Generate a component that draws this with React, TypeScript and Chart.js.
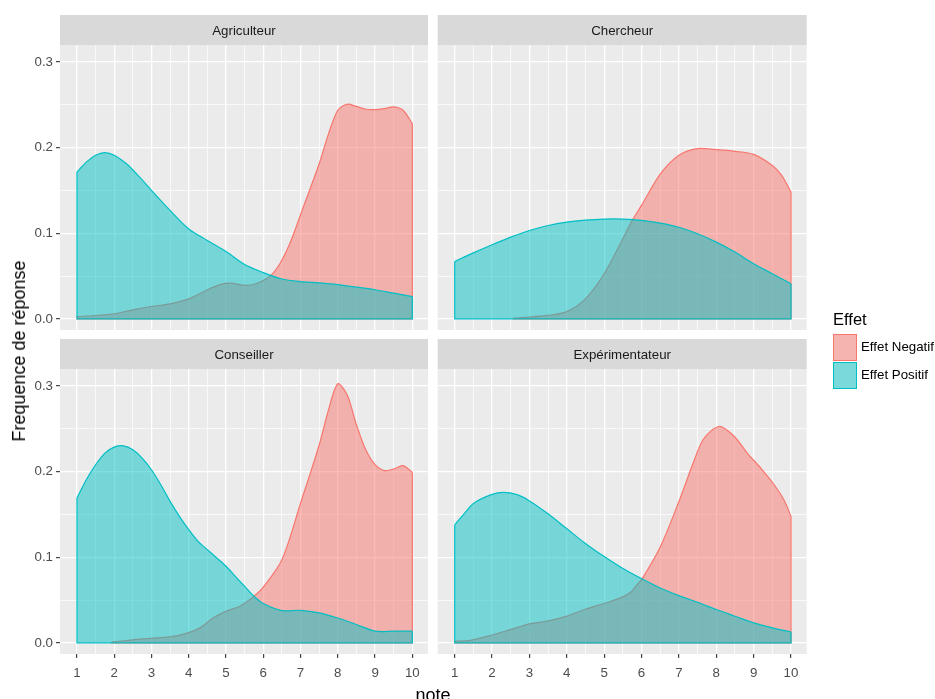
import React, { useEffect, useRef } from "react";
import { Chart, registerables } from "chart.js";

Chart.register(...registerables);

// ---------- data ----------
const panelTitles = ["Agriculteur", "Chercheur", "Conseiller", "Expérimentateur"];
const seriesNames = ["Effet Negatif", "Effet Positif"];
const legendTitle = "Effet";
const xAxisTitle = "note";
const yAxisTitle = "Frequence de réponse";

const xMajorTicks = [1, 2, 3, 4, 5, 6, 7, 8, 9, 10];
const xMinorTicks = [1.5, 2.5, 3.5, 4.5, 5.5, 6.5, 7.5, 8.5, 9.5];
const yMajorTicks = [0, 0.1, 0.2, 0.3];
const yMinorTicks = [0.05, 0.15, 0.25];
const xLimits = [0.545, 10.42];
const yLimits = [-0.013, 0.3197];

// Agriculteur
const agriNegX = [1, 1.5, 2, 2.5, 3, 3.5, 4, 4.5, 4.84, 5.1, 5.55, 5.8, 6.17, 6.44, 6.71, 7.07, 7.5, 7.75, 8, 8.25, 8.5, 8.75, 9, 9.25, 9.5, 9.75, 10];
const agriNegY = [0.0027, 0.0039, 0.0058, 0.0105, 0.0144, 0.0175, 0.0234, 0.0339, 0.040, 0.0417, 0.039, 0.041, 0.0495, 0.064, 0.0876, 0.130, 0.181, 0.216, 0.2435, 0.2505, 0.248, 0.2447, 0.2443, 0.2454, 0.2474, 0.2435, 0.228];
const agriPosX = [1, 1.25, 1.5, 1.75, 2, 2.33, 2.67, 3, 3.5, 4, 4.5, 5, 5.5, 6, 6.5, 7, 7.5, 8, 8.5, 9, 9.5, 10];
const agriPosY = [0.1714, 0.183, 0.191, 0.194, 0.191, 0.181, 0.166, 0.150, 0.1266, 0.105, 0.0915, 0.0785, 0.0635, 0.054, 0.0465, 0.0435, 0.042, 0.040, 0.037, 0.034, 0.030, 0.026];

// Chercheur
const cherNegX = [2.57, 3, 3.5, 4, 4.5, 5, 5.5, 5.75, 6, 6.5, 7, 7.5, 8, 8.5, 9, 9.5, 9.75, 10];
const cherNegY = [0.001, 0.002, 0.004, 0.0085, 0.0234, 0.0526, 0.0935, 0.115, 0.1325, 0.169, 0.191, 0.1987, 0.1975, 0.1956, 0.192, 0.179, 0.1675, 0.148];
const cherPosX = [1, 1.5, 2, 2.5, 3, 3.5, 4, 4.5, 5, 5.5, 6, 6.5, 7, 7.5, 8, 8.5, 9, 9.5, 10];
const cherPosY = [0.067, 0.077, 0.0865, 0.0954, 0.1032, 0.109, 0.113, 0.1153, 0.1165, 0.1165, 0.115, 0.1118, 0.107, 0.0993, 0.0896, 0.078, 0.0643, 0.0526, 0.041];

// Conseiller
const consNegX = [1.93, 2.78, 3.5, 3.94, 4.3, 4.65, 5.01, 5.37, 5.75, 6, 6.5, 7, 7.5, 7.75, 8, 8.25, 8.5, 8.75, 9, 9.25, 9.5, 9.75, 10];
const consNegY = [0.001, 0.0047, 0.007, 0.011, 0.0175, 0.029, 0.037, 0.0427, 0.0544, 0.065, 0.097, 0.163, 0.231, 0.272, 0.3024, 0.2895, 0.2546, 0.2254, 0.208, 0.201, 0.203, 0.2068, 0.199];
const consPosX = [1, 1.25, 1.5, 1.75, 2, 2.25, 2.5, 2.75, 3, 3.25, 3.5, 3.75, 4, 4.25, 4.5, 4.75, 5, 5.25, 5.5, 5.75, 6, 6.5, 7, 7.5, 8, 8.5, 9, 9.5, 10];
const consPosY = [0.169, 0.1904, 0.2079, 0.2215, 0.2285, 0.230, 0.2254, 0.2157, 0.2021, 0.1846, 0.1652, 0.1477, 0.1321, 0.1185, 0.1088, 0.0991, 0.0894, 0.0777, 0.066, 0.0544, 0.0459, 0.0377, 0.038, 0.035, 0.029, 0.0214, 0.0136, 0.0136, 0.0136];

// Expérimentateur
const expNegX = [1, 1.42, 1.96, 2.49, 3.03, 3.48, 3.98, 4.48, 4.99, 5.44, 5.71, 5.88, 6, 6.5, 7, 7.4, 7.66, 8.07, 8.47, 8.83, 9.19, 9.55, 9.81, 10];
const expNegY = [0.002, 0.003, 0.0086, 0.0155, 0.0225, 0.0253, 0.031, 0.0389, 0.0459, 0.0525, 0.059, 0.068, 0.0738, 0.112, 0.165, 0.212, 0.238, 0.2526, 0.2415, 0.2215, 0.204, 0.1846, 0.167, 0.1477];
const expPosX = [1, 1.24, 1.51, 1.98, 2.31, 2.67, 2.98, 3.47, 3.98, 4.48, 4.99, 5.48, 5.88, 6.5, 7, 7.5, 8, 8.5, 9, 9.5, 10];
const expPosY = [0.138, 0.150, 0.163, 0.173, 0.1757, 0.173, 0.1663, 0.1516, 0.134, 0.1166, 0.101, 0.0874, 0.0777, 0.0641, 0.0552, 0.0474, 0.0389, 0.0311, 0.0233, 0.0175, 0.0128];

// ---------- styles ----------
const FONT = "'Liberation Sans', Arial, Helvetica, sans-serif";
const RED = "#F8766D";
const RED_FILL = "rgba(248,118,109,0.5)";
const CYAN = "#00BFC4";
const CYAN_FILL = "rgba(0,191,196,0.5)";
const W = 935;
const H = 699;

const near = (arr: number[], v: number) => arr.some((a) => Math.abs(a - v) < 1e-9);

function curvePoints(xs: number[], ys: number[]) {
  return xs.map((x, i) => ({ x, y: ys[i] }));
}
// outline of the density polygon: left edge, baseline, right edge
function edgePoints(xs: number[], ys: number[]) {
  const n = xs.length - 1;
  return [
    { x: xs[0], y: ys[0] },
    { x: xs[0], y: 0 },
    { x: xs[n], y: 0 },
    { x: xs[n], y: ys[n] },
  ];
}

function makeStripPlugin(title: string) {
  return {
    id: "panelStrip",
    beforeDraw(chart: any) {
      const { ctx, chartArea: a } = chart;
      ctx.save();
      ctx.fillStyle = "#EBEBEB";
      ctx.fillRect(a.left, a.top, a.right - a.left, a.bottom - a.top);
      ctx.fillStyle = "#D9D9D9";
      ctx.fillRect(a.left, a.top - 30, a.right - a.left, 30);
      ctx.fillStyle = "#1A1A1A";
      ctx.font = `13.3px ${FONT}`;
      ctx.textAlign = "center";
      ctx.textBaseline = "middle";
      ctx.fillText(title, (a.left + a.right) / 2, a.top - 14);
      ctx.restore();
    },
  };
}

type PanelProps = {
  title: string;
  negX: number[];
  negY: number[];
  posX: number[];
  posY: number[];
  area: { left: number; top: number; right: number; bottom: number };
  showX: boolean;
  showY: boolean;
};

function Panel({ title, negX, negY, posX, posY, area, showX, showY }: PanelProps) {
  const ref = useRef<HTMLCanvasElement | null>(null);
  useEffect(() => {
    if (!ref.current) return;
    const yAxisW = showY ? area.left : 0;
    const xAxisH = showX ? 30 : 0;
    const xAll = [...xMajorTicks, ...xMinorTicks].sort((a, b) => a - b);
    const yAll = [...yMajorTicks, ...yMinorTicks].sort((a, b) => a - b);
    const curveStyle = {
      borderWidth: 1.2,
      fill: "origin",
      pointRadius: 0,
      tension: 0.3,
    };
    const edgeStyle = {
      borderWidth: 1.2,
      fill: false,
      pointRadius: 0,
      tension: 0,
    };
    const chart = new Chart(ref.current, {
      type: "line",
      data: {
        datasets: [
          {
            label: seriesNames[0],
            data: curvePoints(negX, negY),
            borderColor: RED,
            backgroundColor: RED_FILL,
            ...curveStyle,
            order: 4,
          },
          {
            label: seriesNames[0] + " outline",
            data: edgePoints(negX, negY),
            borderColor: RED,
            ...edgeStyle,
            order: 3,
          },
          {
            label: seriesNames[1],
            data: curvePoints(posX, posY),
            borderColor: CYAN,
            backgroundColor: CYAN_FILL,
            ...curveStyle,
            order: 2,
          },
          {
            label: seriesNames[1] + " outline",
            data: edgePoints(posX, posY),
            borderColor: CYAN,
            ...edgeStyle,
            order: 1,
          },
        ] as any,
      },
      options: {
        animation: false,
        responsive: false,
        maintainAspectRatio: false,
        events: [],
        layout: {
          padding: {
            left: area.left - yAxisW,
            top: area.top,
            right: W - area.right,
            bottom: H - area.bottom - xAxisH,
          },
        },
        plugins: {
          legend: { display: false },
          tooltip: { enabled: false },
          title: { display: false },
        },
        scales: {
          x: {
            type: "linear",
            min: xLimits[0],
            max: xLimits[1],
            afterBuildTicks: (s: any) => {
              s.ticks = xAll.map((v) => ({ value: v }));
            },
            afterFit: (s: any) => {
              s.height = xAxisH;
            },
            ticks: {
              display: showX,
              autoSkip: false,
              maxRotation: 0,
              minRotation: 0,
              padding: 7,
              color: "#4D4D4D",
              font: { family: FONT, size: 13.3 },
              callback: (v: any) => (near(xMajorTicks, Number(v)) ? String(v) : ""),
            },
            grid: {
              color: "#FFFFFF",
              lineWidth: (c: any) => (c.tick && near(xMajorTicks, c.tick.value) ? 1.3 : 0.7),
              drawTicks: showX,
              tickLength: 4,
              tickWidth: 1.1,
              tickColor: (c: any) => (c.tick && near(xMajorTicks, c.tick.value) ? "#333333" : "rgba(0,0,0,0)"),
            },
            border: { display: false },
          },
          y: {
            type: "linear",
            min: yLimits[0],
            max: yLimits[1],
            afterBuildTicks: (s: any) => {
              s.ticks = yAll.map((v) => ({ value: v }));
            },
            afterFit: (s: any) => {
              s.width = yAxisW;
            },
            ticks: {
              display: showY,
              autoSkip: false,
              padding: 3,
              color: "#4D4D4D",
              font: { family: FONT, size: 13.3 },
              callback: (v: any) => (near(yMajorTicks, Number(v)) ? Number(v).toFixed(1) : ""),
            },
            grid: {
              color: "#FFFFFF",
              lineWidth: (c: any) => (c.tick && near(yMajorTicks, c.tick.value) ? 1.3 : 0.7),
              drawTicks: showY,
              tickLength: 4,
              tickWidth: 1.1,
              tickColor: (c: any) => (c.tick && near(yMajorTicks, c.tick.value) ? "#333333" : "rgba(0,0,0,0)"),
            },
            border: { display: false },
          },
        },
      } as any,
      plugins: [makeStripPlugin(title)],
    });
    return () => chart.destroy();
  }, []);
  return (
    <canvas
      ref={ref}
      width={W}
      height={H}
      style={{ position: "absolute", left: 0, top: 0, width: W, height: H }}
    />
  );
}

const colLeft = [
  { left: 60, right: 428 },
  { left: 437.7, right: 806.7 },
];
const rowTop = [
  { top: 45, bottom: 330 },
  { top: 369, bottom: 654 },
];

const panelData = [
  { negX: agriNegX, negY: agriNegY, posX: agriPosX, posY: agriPosY },
  { negX: cherNegX, negY: cherNegY, posX: cherPosX, posY: cherPosY },
  { negX: consNegX, negY: consNegY, posX: consPosX, posY: consPosY },
  { negX: expNegX, negY: expNegY, posX: expPosX, posY: expPosY },
];

export default function App() {
  return (
    <div
      style={{
        position: "absolute",
        left: 0,
        top: 0,
        width: W,
        height: H,
        overflow: "hidden",
        background: "#FFFFFF",
        fontFamily: FONT,
      }}
    >
      {panelData.map((d, i) => {
        const col = i % 2;
        const row = Math.floor(i / 2);
        return (
          <Panel
            key={panelTitles[i]}
            title={panelTitles[i]}
            {...d}
            area={{ ...colLeft[col], ...rowTop[row] }}
            showX={row === 1}
            showY={col === 0}
          />
        );
      })}
      <div
        style={{
          position: "absolute",
          left: 19,
          top: 351,
          transform: "translate(-50%, -50%) rotate(-90deg)",
          whiteSpace: "nowrap",
          fontSize: 18,
          color: "#000",
          lineHeight: "20px",
        }}
      >
        {yAxisTitle}
      </div>
      <div
        style={{
          position: "absolute",
          left: 433,
          top: 685,
          transform: "translateX(-50%)",
          whiteSpace: "nowrap",
          fontSize: 18,
          color: "#000",
          lineHeight: "20px",
        }}
      >
        {xAxisTitle}
      </div>
      <div
        style={{
          position: "absolute",
          left: 833,
          top: 309,
          fontSize: 16.5,
          color: "#000",
          lineHeight: "20px",
        }}
      >
        {legendTitle}
      </div>
      {seriesNames.map((name, i) => (
        <React.Fragment key={name}>
          <div
            style={{
              position: "absolute",
              left: 833,
              top: 334 + i * 27.5,
              width: 24,
              height: 27,
              background: "#F2F2F2",
            }}
          >
            <div
              style={{
                width: 22,
                height: 25,
                border: `1px solid ${i === 0 ? RED : CYAN}`,
                background: i === 0 ? RED_FILL : CYAN_FILL,
              }}
            />
          </div>
          <div
            style={{
              position: "absolute",
              left: 861,
              top: 338 + i * 27.5,
              fontSize: 13.3,
              color: "#000",
              lineHeight: "18px",
              whiteSpace: "nowrap",
            }}
          >
            {name}
          </div>
        </React.Fragment>
      ))}
    </div>
  );
}
